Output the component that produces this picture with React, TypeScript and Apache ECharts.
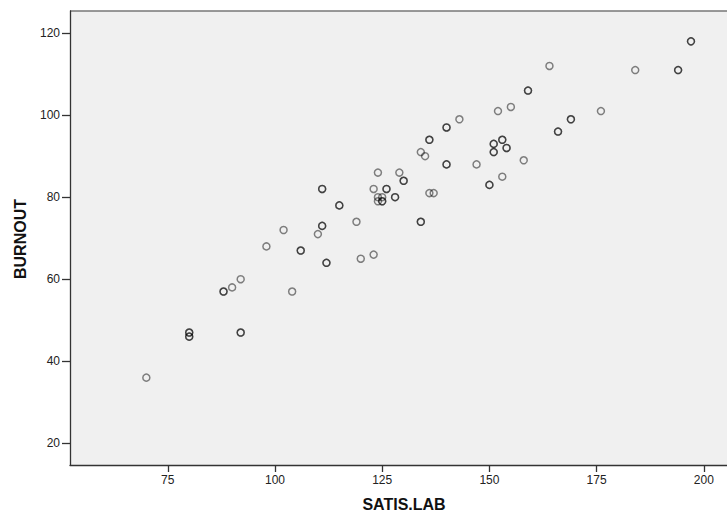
import React, { useEffect, useRef } from "react";
import * as echarts from "echarts";

// SATIS.LAB (x) and BURNOUT (y); repeated entries are coinciding cases (drawn darker)
const satisLab = [
  70, 90, 92, 98, 102, 104, 110, 119, 120, 123, 123, 124, 129, 134, 135, 136, 137, 143, 147,
  152, 155, 158, 153, 164, 176, 184,
  80, 80, 80, 80, 92, 92, 88, 88, 106, 106, 111, 111, 111, 111, 112, 112, 115, 115,
  126, 126, 128, 128, 130, 130, 134, 134, 136, 136, 140, 140, 140, 140, 150, 150,
  151, 151, 153, 153, 154, 154, 151, 151, 159, 159, 166, 166, 169, 169, 194, 194, 197, 197,
  124, 125, 124, 125, 125,
];
const burnout = [
  36, 58, 60, 68, 72, 57, 71, 74, 65, 66, 82, 86, 86, 91, 90, 81, 81, 99, 88,
  101, 102, 89, 85, 112, 101, 111,
  47, 47, 46, 46, 47, 47, 57, 57, 67, 67, 73, 73, 82, 82, 64, 64, 78, 78,
  82, 82, 80, 80, 84, 84, 74, 74, 94, 94, 97, 97, 88, 88, 83, 83,
  93, 93, 94, 94, 92, 92, 91, 91, 106, 106, 96, 96, 99, 99, 111, 111, 118, 118,
  80, 80, 79, 79, 79,
];
const xTicks = [75, 100, 125, 150, 175, 200];
const yTicks = [20, 40, 60, 80, 100, 120];
const xTitle = "SATIS.LAB";
const yTitle = "BURNOUT";

export default function App() {
  const ref = useRef<HTMLDivElement>(null);
  useEffect(() => {
    if (!ref.current) return;
    const chart = echarts.init(ref.current, null, { renderer: "svg" });
    const data = satisLab.map((x, i) => [x, burnout[i]]);
    const font = "'Liberation Sans', Arial, sans-serif";
    chart.setOption({
      animation: false,
      backgroundColor: "#ffffff",
      grid: {
        left: 70,
        top: 11,
        right: 0,
        bottom: 46,
        show: true,
        backgroundColor: "#f0f0f0",
        borderWidth: 0,
        outerBoundsMode: "none",
        containLabel: false,
      },
      xAxis: {
        type: "value",
        min: 52.2,
        max: 205.4,
        splitLine: { show: false },
        axisLine: { show: true, onZero: false, lineStyle: { color: "#333", width: 1.3 } },
        axisTick: {
          show: true,
          length: 7,
          customValues: xTicks,
          lineStyle: { color: "#333", width: 1.3 },
        },
        axisLabel: {
          customValues: xTicks,
          color: "#222",
          fontSize: 12,
          fontFamily: font,
          margin: 9,
        },
      },
      yAxis: {
        type: "value",
        min: 14.7,
        max: 125.4,
        splitLine: { show: false },
        axisLine: { show: true, onZero: false, lineStyle: { color: "#333", width: 1.3 } },
        axisTick: {
          show: true,
          length: 8,
          customValues: yTicks,
          lineStyle: { color: "#333", width: 1.3 },
        },
        axisLabel: {
          customValues: yTicks,
          color: "#222",
          fontSize: 12,
          fontFamily: font,
          margin: 10,
        },
      },
      graphic: [
        {
          type: "line",
          shape: { x1: 70, y1: 11, x2: 727, y2: 11 },
          style: { stroke: "#777", lineWidth: 1.5 },
          silent: true,
        },
        {
          type: "text",
          x: 404,
          y: 504,
          style: {
            text: xTitle,
            fontSize: 16,
            fontWeight: "bold",
            fontFamily: font,
            fill: "#111",
            align: "center",
            verticalAlign: "middle",
          },
        },
        {
          type: "text",
          x: 20,
          y: 239,
          rotation: Math.PI / 2,
          style: {
            text: yTitle,
            fontSize: 16,
            fontWeight: "bold",
            fontFamily: font,
            fill: "#111",
            align: "center",
            verticalAlign: "middle",
          },
        },
      ],
      series: [
        {
          type: "scatter",
          data,
          symbol: "circle",
          symbolSize: 7,
          itemStyle: {
            color: "rgba(0,0,0,0)",
            borderColor: "rgba(0,0,0,0.6)",
            borderWidth: 1.5,
          },
          emphasis: { disabled: true },
        },
      ],
    });
    return () => chart.dispose();
  }, []);
  return (
    <div
      ref={ref}
      style={{ position: "fixed", left: 0, top: 0, width: 727, height: 511 }}
    />
  );
}
